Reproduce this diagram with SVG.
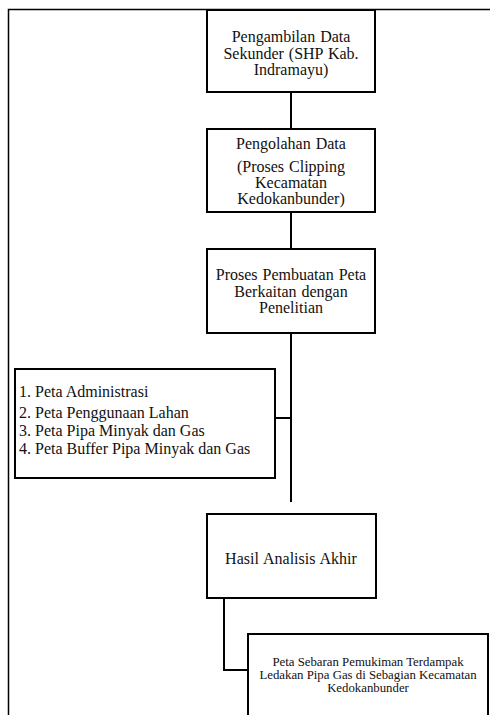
<svg xmlns="http://www.w3.org/2000/svg" width="490" height="715" viewBox="0 0 490 715">
<style>
.box{fill:#fff;stroke:#000;stroke-width:2}
text{font-family:'Liberation Serif','Times New Roman',Times,'DejaVu Serif',serif;fill:#111}
.t{font-size:16px;text-anchor:middle;word-spacing:1px}
.l{font-size:16px}
.s{font-size:12.8px;text-anchor:middle}
.c{fill:none;stroke:#000;stroke-width:2}
</style>
<rect width="490" height="715" fill="#fff"/>
<path d="M8.5,720 V9.5 H495" fill="none" stroke="#000" stroke-width="1.5"/>
<g id="connectors">
<path class="c" d="M291,92 V129"/>
<path class="c" d="M291,212 V249"/>
<path class="c" d="M291,333 V502" stroke-width="3"/>
<path class="c" d="M275,418 H291"/>
<path class="c" d="M224,598 V670 H248"/>
</g>
<g id="n1">
<rect class="box" x="207" y="10" width="168" height="82"/>
<text class="t" x="291" y="42">Pengambilan Data</text>
<text class="t" x="291" y="59">Sekunder (SHP Kab.</text>
<text class="t" x="291" y="75">Indramayu)</text>
</g>
<g id="n2">
<rect class="box" x="207" y="129" width="168" height="83"/>
<text class="t" x="291" y="149">Pengolahan Data</text>
<text class="t" x="291" y="172">(Proses Clipping</text>
<text class="t" x="291" y="188">Kecamatan</text>
<text class="t" x="291" y="204">Kedokanbunder)</text>
</g>
<g id="n3">
<rect class="box" x="207" y="249" width="168" height="84"/>
<text class="t" x="291" y="280">Proses Pembuatan Peta</text>
<text class="t" x="291" y="297">Berkaitan dengan</text>
<text class="t" x="291" y="313">Penelitian</text>
</g>
<g id="n4">
<rect class="box" x="15" y="369" width="260" height="109"/>
<text class="l" x="19" y="397">1. Peta Administrasi</text>
<text class="l" x="19" y="418">2. Peta Penggunaan Lahan</text>
<text class="l" x="19" y="436">3. Peta Pipa Minyak dan Gas</text>
<text class="l" x="19" y="454">4. Peta Buffer Pipa Minyak dan Gas</text>
</g>
<g id="n5">
<rect class="box" x="207" y="514" width="169" height="84"/>
<text class="t" x="291" y="564">Hasil Analisis Akhir</text>
</g>
<g id="n6">
<rect class="box" x="248" y="634" width="240" height="90"/>
<text class="s" x="368" y="666">Peta Sebaran Pemukiman Terdampak</text>
<text class="s" x="368" y="679">Ledakan Pipa Gas di Sebagian Kecamatan</text>
<text class="s" x="368" y="692">Kedokanbunder</text>
</g>
</svg>
